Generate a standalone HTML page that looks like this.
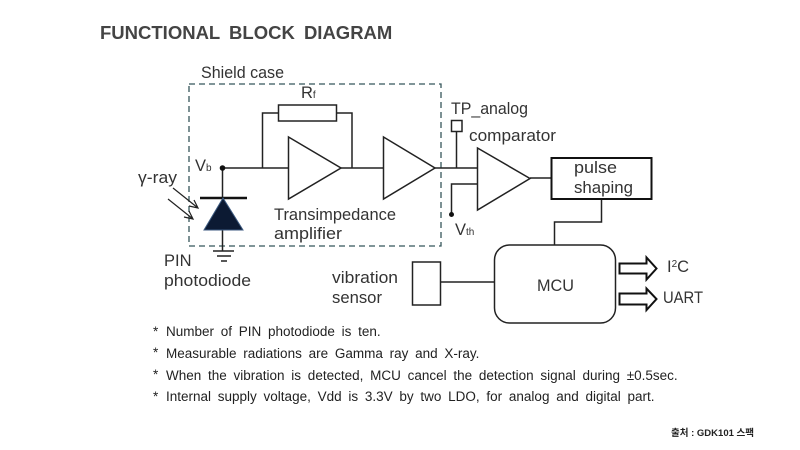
<!DOCTYPE html>
<html>
<head>
<meta charset="utf-8">
<style>
html,body{margin:0;padding:0;background:#fff;width:800px;height:450px;overflow:hidden}
svg{display:block}
text{font-family:"Liberation Sans","Noto Sans CJK KR",sans-serif;fill:#333}
.l{font-size:16.5px}
.s{font-size:10px}
.n{font-size:13.5px;fill:#222;word-spacing:3px}
</style>
</head>
<body>
<svg width="800" height="450" viewBox="0 0 800 450" xmlns="http://www.w3.org/2000/svg">
<rect width="800" height="450" fill="#fff"/>
<text x="100" y="39" font-size="18.5" font-weight="bold" style="fill:#444;word-spacing:4px">FUNCTIONAL BLOCK DIAGRAM</text>

<rect x="189" y="84" width="252" height="162" fill="none" stroke="#35565a" stroke-width="1.3" stroke-dasharray="6 4"/>
<g fill="none" stroke="#222" stroke-width="1.5">
<rect x="278.500" y="105" width="58" height="16"/>
<path d="M278 113H262.500V168M336 113H352V168"/>
<path d="M222 168H288M341 168H383M435 168H477"/>
<polygon points="288.500,137 341,168 288.500,199" />
<polygon points="383.500,137 435,168 383.500,199" />
<rect x="451.500" y="120.500" width="10.500" height="11"/>
<path d="M456.500 131V168"/>
<polygon points="477.500,148 530,178.500 477.500,210" />
<path d="M477 184H451.500V214M530 178H551"/>
<path d="M601.500 199V222H554.500V245M440 282H494"/>
<rect x="494.500" y="245" width="121" height="78" rx="15"/>
<rect x="412.500" y="262" width="28" height="43"/>
<path d="M222.500 168V198M222.500 229V251"/>
<path d="M213 251H234M217 256H231M221 261H227"/>
</g>
<g fill="none" stroke="#222" stroke-width="1.200">
<path d="M173 188L198 208M194 200L198 208L189 206M168 199L193 219M189 211L193 219L184 217"/>
</g>
<rect x="551.500" y="158" width="100" height="41" fill="none" stroke="#111" stroke-width="2"/>
<circle cx="222.500" cy="168" r="2.800" fill="#111"/>
<circle cx="451.500" cy="214.500" r="2.500" fill="#111"/>
<path d="M200 198H247" stroke="#111" stroke-width="2.500"/>
<polygon points="223,198 204,230 243,230" fill="#0c1a33" stroke="#3c5a80" stroke-width="1"/>

<path d="M619.500 263.500H646.500V257.500L656.500 268.500L646.500 279.500V273.500H619.500Z" fill="#fff" stroke="#111" stroke-width="2"/>
<path d="M619.500 293.500H646.500V288.500L656.500 299L646.500 310V304.500H619.500Z" fill="#fff" stroke="#111" stroke-width="2"/>

<text class="l" x="201" y="78" textLength="83" lengthAdjust="spacingAndGlyphs">Shield case</text>
<text class="l" x="301" y="98">R<tspan class="s">f</tspan></text>
<text class="l" x="195" y="171">V<tspan class="s">b</tspan></text>
<text class="l" x="138" y="183" textLength="39" lengthAdjust="spacingAndGlyphs">γ-ray</text>
<text class="l" x="274" y="220" textLength="122" lengthAdjust="spacingAndGlyphs">Transimpedance</text>
<text class="l" x="274" y="239" textLength="68" lengthAdjust="spacingAndGlyphs">amplifier</text>
<text class="l" x="164" y="266">PIN</text>
<text class="l" x="164" y="286" textLength="87" lengthAdjust="spacingAndGlyphs">photodiode</text>
<text class="l" x="451" y="114" textLength="77" lengthAdjust="spacingAndGlyphs">TP_analog</text>
<text class="l" x="469" y="141" textLength="87" lengthAdjust="spacingAndGlyphs">comparator</text>
<text class="l" x="455" y="235">V<tspan class="s">th</tspan></text>
<text class="l" x="574" y="173" textLength="43" lengthAdjust="spacingAndGlyphs">pulse</text>
<text class="l" x="574" y="193" textLength="59" lengthAdjust="spacingAndGlyphs">shaping</text>
<text class="l" x="332" y="283" textLength="66" lengthAdjust="spacingAndGlyphs">vibration</text>
<text class="l" x="332" y="303" textLength="50" lengthAdjust="spacingAndGlyphs">sensor</text>
<text class="l" x="537" y="291" textLength="37" lengthAdjust="spacingAndGlyphs">MCU</text>
<text class="l" x="667" y="272">I<tspan font-size="10" dy="-5">2</tspan><tspan dy="5">C</tspan></text>
<text class="l" x="663" y="303" textLength="40" lengthAdjust="spacingAndGlyphs">UART</text>

<text class="n" x="153" y="336">*</text><text class="n" x="166" y="336">Number of PIN photodiode is ten.</text>
<text class="n" x="153" y="357">*</text><text class="n" x="166" y="358">Measurable radiations are Gamma ray and X-ray.</text>
<text class="n" x="153" y="379">*</text><text class="n" x="166" y="380">When the vibration is detected, MCU cancel the detection signal during ±0.5sec.</text>
<text class="n" x="153" y="401">*</text><text class="n" x="166" y="401">Internal supply voltage, Vdd is 3.3V by two LDO, for analog and digital part.</text>

<text x="671" y="436" font-size="9.500" font-weight="bold" style="fill:#222">출처 : GDK101 스팩</text>
</svg>
</body>
</html>
